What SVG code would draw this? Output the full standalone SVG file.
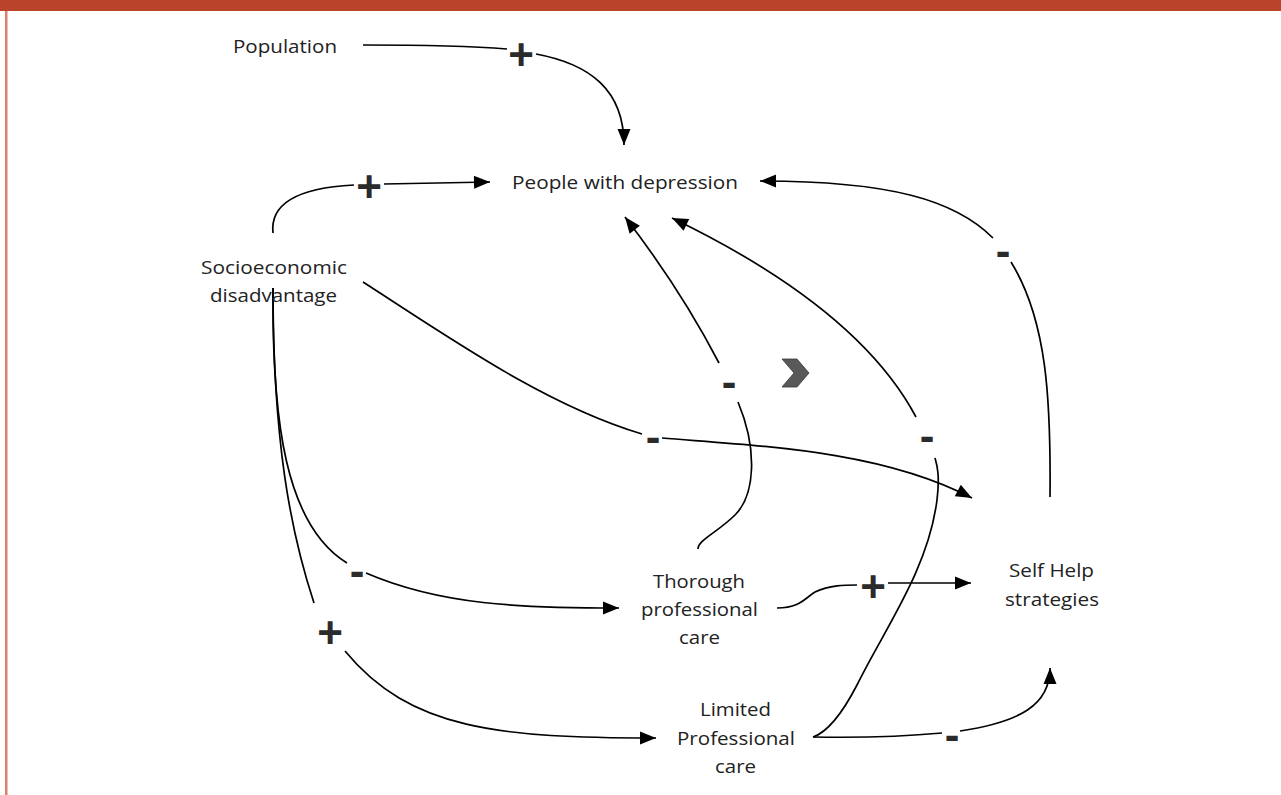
<svg xmlns="http://www.w3.org/2000/svg" width="1281" height="795" viewBox="0 0 1281 795">
<defs>
<marker id="arr" markerUnits="userSpaceOnUse" markerWidth="18" markerHeight="14" viewBox="0 0 17 14" refX="16" refY="7" orient="auto">
<path d="M0,0.5 L16,7 L0,13.5 z" fill="#000"/>
</marker>
<style>
.lbl{font-family:"Open Sans","Noto Sans",sans-serif;font-size:18px;fill:#222;text-anchor:middle}
.c{fill:none;stroke:#000;stroke-width:1.7}
.a{marker-end:url(#arr)}
.sg{font-family:"Liberation Sans",Arial,sans-serif;font-weight:bold;font-size:44px;fill:#2b2b2b;text-anchor:middle}
</style>
</defs>
<rect x="0" y="0" width="1281" height="795" fill="#fff"/>
<rect x="0" y="0" width="1281" height="11" fill="#B9432B"/>
<rect x="5" y="11" width="2.5" height="784" fill="#D9826B"/>

<g id="connectors">
<!-- Population -> People -->
<path class="c" d="M363,45 C420,45 470,46 507,49"/>
<path class="c a" d="M536,54 C590,64 624,90 624,145"/>
<!-- Socio -> People -->
<path class="c" d="M273,233 C270,205 295,188 354,185"/>
<path class="c a" d="M384,184 L490,182"/>
<!-- Socio -> Self Help -->
<path class="c" d="M363,282 C450,338 545,405 642,434"/>
<path class="c a" d="M662,438 C760,446 880,450 972,498"/>
<!-- Socio -> Thorough -->
<path class="c" d="M273,288 C272,420 285,525 347,563"/>
<path class="c a" d="M366,573 C440,605 520,608 619,608"/>
<!-- Socio -> Limited -->
<path class="c" d="M273,288 C273,440 290,530 314,603"/>
<path class="c a" d="M345,651 C410,730 500,738 656,738"/>
<!-- Thorough -> People -->
<path class="c" d="M698,549 C698,540 718,532 735,515 C755,495 758,450 738,402"/>
<path class="c a" d="M719,363 C693,313 662,265 625,217"/>
<!-- Limited -> People -->
<path class="c" d="M813,737 C828,732 843,712 857,685 C885,628 928,570 937,500 C940,475 937,465 935,458"/>
<path class="c a" d="M916,417 C875,340 790,275 672,218"/>
<!-- Self Help -> People -->
<path class="c" d="M1050,497 C1051,400 1047,320 1011,262"/>
<path class="c a" d="M993,238 C955,200 890,181 760,181"/>
<!-- Thorough -> Self Help -->
<path class="c" d="M777,608 C800,608 805,598 815,592 C830,585 845,585 857,585"/>
<path class="c a" d="M888,583 L971,583"/>
<!-- Limited -> Self Help -->
<path class="c" d="M813,737 C870,738 910,736 942,733"/>
<path class="c a" d="M960,731 C1020,722 1050,705 1050,668"/>
</g>

<g id="signs">
<text class="sg" x="521" y="70">+</text>
<text class="sg" x="369" y="202">+</text>
<text class="sg" x="653" y="452">-</text>
<text class="sg" x="357" y="586">-</text>
<text class="sg" x="330" y="648">+</text>
<text class="sg" x="729" y="397">-</text>
<text class="sg" x="927" y="451">-</text>
<text class="sg" x="1003" y="266">-</text>
<text class="sg" x="873" y="602">+</text>
<text class="sg" x="952" y="750">-</text>
</g>

<g id="chevron">
<polygon points="782,359 797,359 809,373 797,387 782,387 794,373" fill="#595959" stroke="#3a3a3a" stroke-width="0.8"/>
</g>

<g id="node-population">
<text class="lbl" x="285" y="53" textLength="104" lengthAdjust="spacingAndGlyphs">Population</text>
</g>
<g id="node-people">
<text class="lbl" x="625" y="189" textLength="226" lengthAdjust="spacingAndGlyphs">People with depression</text>
</g>
<g id="node-socio">
<text class="lbl" x="274" y="274" textLength="146" lengthAdjust="spacingAndGlyphs">Socioeconomic</text>
<text class="lbl" x="273.5" y="302" textLength="127" lengthAdjust="spacingAndGlyphs">disadvantage</text>
</g>
<g id="node-thorough">
<text class="lbl" x="699" y="588" textLength="92" lengthAdjust="spacingAndGlyphs">Thorough</text>
<text class="lbl" x="699.5" y="616" textLength="117" lengthAdjust="spacingAndGlyphs">professional</text>
<text class="lbl" x="699.5" y="644" textLength="41" lengthAdjust="spacingAndGlyphs">care</text>
</g>
<g id="node-selfhelp">
<text class="lbl" x="1051.5" y="577" textLength="85" lengthAdjust="spacingAndGlyphs">Self Help</text>
<text class="lbl" x="1052" y="606" textLength="94" lengthAdjust="spacingAndGlyphs">strategies</text>
</g>
<g id="node-limited">
<text class="lbl" x="735.5" y="716" textLength="71" lengthAdjust="spacingAndGlyphs">Limited</text>
<text class="lbl" x="736" y="745" textLength="118" lengthAdjust="spacingAndGlyphs">Professional</text>
<text class="lbl" x="735.5" y="773" textLength="41" lengthAdjust="spacingAndGlyphs">care</text>
</g>
</svg>
